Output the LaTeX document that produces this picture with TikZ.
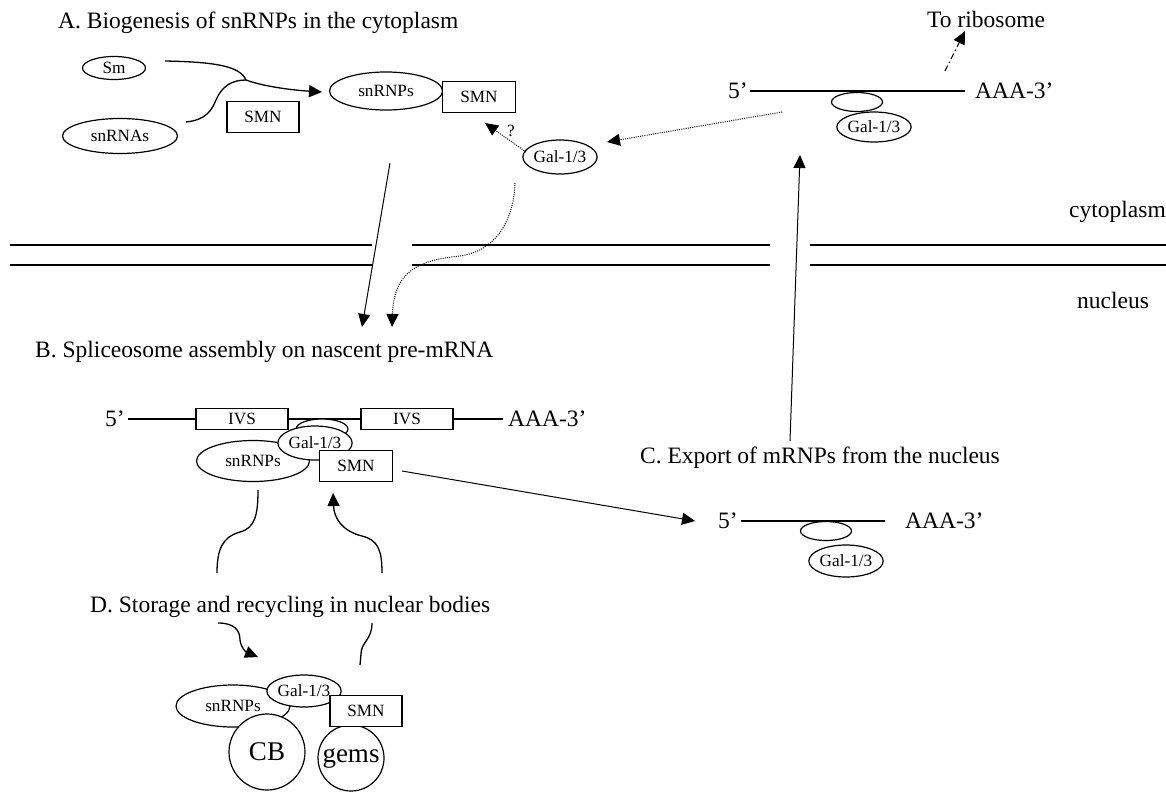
\documentclass[tikz,border=0pt]{standalone}
\usepackage{fontspec}
\setmainfont{Liberation Serif}
\usetikzlibrary{shapes.geometric,arrows.meta}
\begin{document}
\begin{tikzpicture}[x=1pt,y=-1pt,
  big/.style={font=\fontsize{23.5}{28}\selectfont, inner sep=0pt},
  sml/.style={font=\fontsize{17.2}{20}\selectfont},
  ell/.style={draw, ellipse, inner sep=0pt, line width=1.2pt, fill=white, sml},
  bx/.style={draw, rectangle, inner sep=0pt, line width=1.2pt, fill=white, sml},
  ln/.style={line width=1.3pt},
  thin/.style={line width=1pt},
  tip/.style={-{Triangle[length=13pt,width=12pt]}},
  dotln/.style={dash pattern=on 1pt off 1.2pt, line width=1pt},
  circ/.style={draw, circle, inner sep=0pt, line width=1.2pt, fill=white, font=\fontsize{27}{30}\selectfont}
]
\useasboundingbox (0,0) rectangle (1166,792);

% membrane
\draw[ln] (10,245) -- (372,245) (412,245) -- (770,245) (810,245) -- (1166,245);
\draw[ln] (10,265) -- (372,265) (412,265) -- (770,265) (810,265) -- (1166,265);
\node[big, anchor=base east] (cyto) at (1166,217) {cytoplasm};
\node[big, anchor=base west] (nuc) at (1077,308) {nucleus};

% ---------- A ----------
\node[big, anchor=base west] (tA) at (58,29) {A. Biogenesis of snRNPs in the cytoplasm};
\node[ell, minimum width=63, minimum height=23] (sm) at (114,68) {Sm};
\node[ell, minimum width=115, minimum height=35] (sna) at (120,136) {snRNAs};
\node[bx, minimum width=72, minimum height=31] (smnA) at (263,117) {SMN};
\node[ell, minimum width=113, minimum height=38] (snpA) at (386,91) {snRNPs};
\node[bx, minimum width=73, minimum height=31] (smnA2) at (479,97) {SMN};
\node[ell, minimum width=57, minimum height=34] (galA) at (560,157) {Gal-1/3};
\node[sml, inner sep=0pt] (q) at (511,131) {?};

\coordinate (smS) at (165,61);
\coordinate (join) at (246,80);
\coordinate (snpT) at (322,92);
\coordinate (snaS) at (186,122);
\draw[ln] (smS) .. controls (215,62) and (240,66) .. (join);
\draw[ln, tip] (join) .. controls (262,86) and (290,90) .. (snpT);
\draw[ln] (snaS) .. controls (206,120) and (212,110) .. (216,100) .. controls (222,86) and (232,80) .. (join);

% top right mRNA
\node[big, anchor=base east] (p5a) at (748,98) {5’};
\node[big, anchor=base west] (p3a) at (975,98) {AAA-3’};
\coordinate (La) at (750,91);
\coordinate (Ra) at (965,91);
\draw[ln] (La) -- (Ra);
\node[ell, minimum width=51, minimum height=19] (eA) at (857,102) {};
\node[ell, minimum width=54, minimum height=30] (galA2) at (874,127) {Gal-1/3};
\node[big, anchor=base west] (trib) at (927,28) {To ribosome};
\coordinate (ribS) at (945,71);
\coordinate (ribT) at (965,31);
\draw[thin, dash pattern=on 6pt off 3pt on 1.5pt off 3pt, tip] (ribS) -- (ribT);

% connectors A
\coordinate (dS) at (782,112);
\coordinate (dT) at (607,142);
\draw[dotln, tip] (dS) -- (dT);
\coordinate (qS) at (526,152);
\coordinate (qT) at (485,123);
\draw[dotln, tip] (qS) -- (qT);
\coordinate (aS) at (390,163);
\coordinate (aT) at (362,327);
\draw[thin, tip] (aS) -- (aT);
\coordinate (gS) at (515,183);
\coordinate (gT) at (392,327);
\draw[dotln, tip] (gS) .. controls (514,215) and (500,250) .. (460,256) .. controls (420,260) and (394,270) .. (gT);

% ---------- B ----------
\node[big, anchor=base west] (tB) at (35,357) {B. Spliceosome assembly on nascent pre-mRNA};
\node[big, anchor=base east] (p5b) at (125,426) {5’};
\node[bx, minimum width=92, minimum height=21] (ivs1) at (242,419) {IVS};
\node[bx, minimum width=92, minimum height=21] (ivs2) at (407,419) {IVS};
\node[big, anchor=base west] (p3b) at (508,426) {AAA-3’};
\coordinate (Lb) at (128,419);
\coordinate (Rb) at (503,419);
\draw[ln] (Lb) -- (ivs1.west) (ivs1.east) -- (ivs2.west) (ivs2.east) -- (Rb);
\node[ell, minimum width=52, minimum height=20] (eB) at (322,429) {};
\node[ell, minimum width=113, minimum height=41] (snpB) at (253,461) {snRNPs};
\node[ell, minimum width=57, minimum height=34] (galB) at (315,443) {Gal-1/3};
\node[bx, minimum width=73, minimum height=31] (smnB) at (356,466) {SMN};

% ---------- C ----------
\node[big, anchor=base west] (tC) at (640,463) {C. Export of mRNPs from the nucleus};
\node[big, anchor=base east] (p5c) at (738,528) {5’};
\node[big, anchor=base west] (p3c) at (905,528) {AAA-3’};
\coordinate (Lc) at (741,521);
\coordinate (Rc) at (885,521);
\draw[ln] (Lc) -- (Rc);
\node[ell, minimum width=51, minimum height=19] (eC) at (826,531) {};
\node[ell, minimum width=57, minimum height=32] (galC) at (846,561) {Gal-1/3};

\coordinate (bcS) at (402,471);
\coordinate (bcT) at (695,521);
\draw[thin, tip] (bcS) -- (bcT);
\coordinate (exS) at (790,441);
\coordinate (exT) at (800,155);
\draw[thin, tip] (exS) -- (exT);

% ---------- D ----------
\node[big, anchor=base west] (tD) at (90,612) {D. Storage and recycling in nuclear bodies};
\node[ell, minimum width=114, minimum height=42] (snpD) at (233,706) {snRNPs};
\node[circ, minimum size=76] (cb) at (267,752) {CB};
\node[circ, minimum size=66] (gems) at (351,758) {gems};
\node[ell, minimum width=57, minimum height=32] (galD) at (304,691) {Gal-1/3};
\node[bx, minimum width=72, minimum height=31] (smnD) at (366,711) {SMN};

% curves between B and D
\coordinate (l1) at (258,490);
\coordinate (l2) at (217,573);
\draw[ln] (l1) .. controls (258,515) and (255,528) .. (240,532) .. controls (222,537) and (217,550) .. (l2);
\coordinate (r1) at (382,573);
\coordinate (r2) at (333,493);
\draw[ln, tip] (r1) .. controls (382,550) and (378,540) .. (362,536) .. controls (342,531) and (334,518) .. (r2);
\coordinate (l3) at (218,623);
\coordinate (l4) at (258,657);
\draw[ln, tip] (l3) .. controls (234,623) and (240,630) .. (240,640) .. controls (241,648) and (246,652) .. (l4);
\coordinate (r3) at (372,623);
\coordinate (r4) at (360,665);
\draw[ln] (r3) .. controls (372,640) and (361,642) .. (361,654) -- (r4);
\end{tikzpicture}
\end{document}
